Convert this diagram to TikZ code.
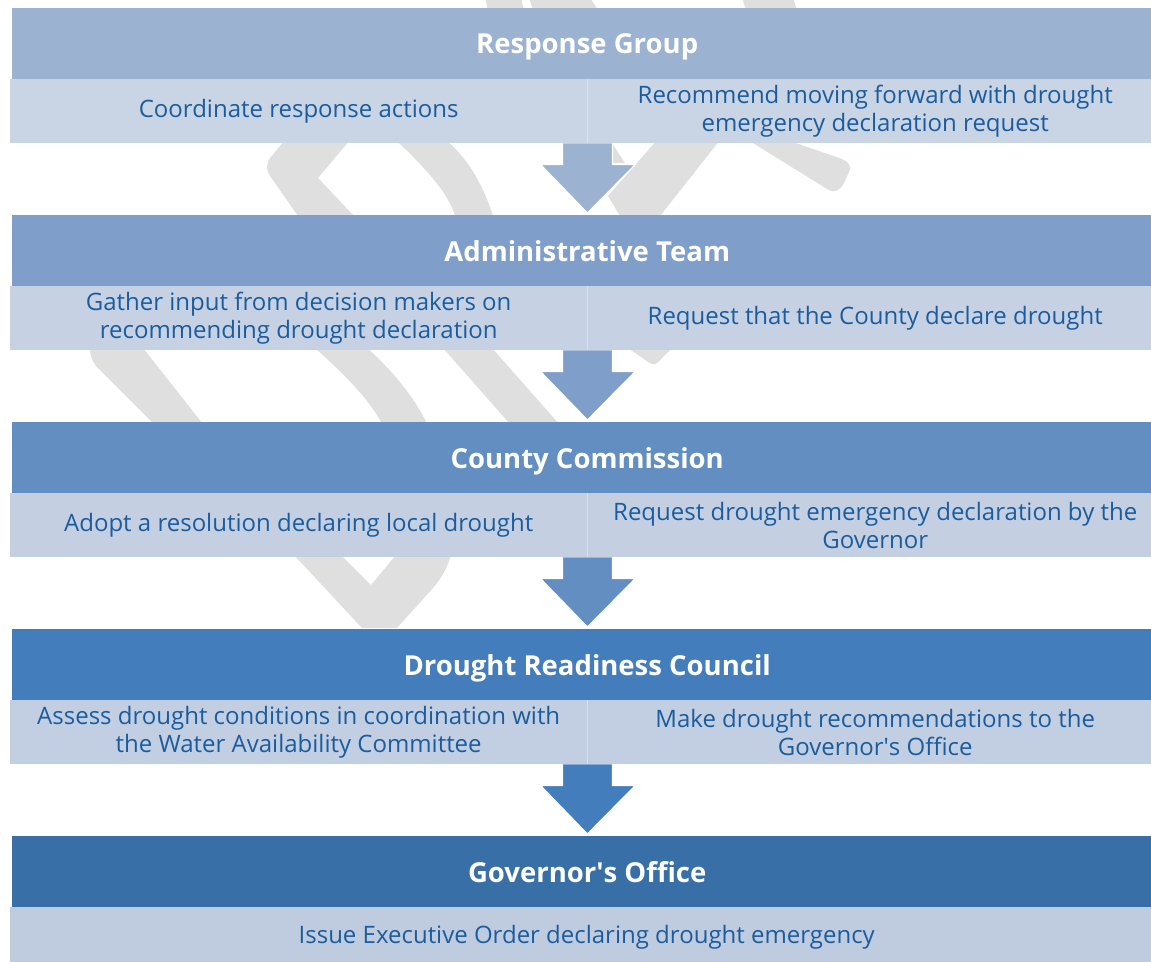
\documentclass[tikz,border=0pt]{standalone}
\usepackage{fontspec}
\setmainfont{Open Sans}
\usepackage{xcolor}
\usepackage{tikz}
\usetikzlibrary{positioning,calc}

\definecolor{headA}{HTML}{9CB2D1}
\definecolor{headB}{HTML}{7F9EC9}
\definecolor{headC}{HTML}{628EC1}
\definecolor{headD}{HTML}{437DBB}
\definecolor{headE}{HTML}{376FA6}
\definecolor{subA}{HTML}{C9D4E4}
\definecolor{subB}{HTML}{C6D2E3}
\definecolor{subC}{HTML}{C4D0E2}
\definecolor{subD}{HTML}{C2CFE2}
\definecolor{subE}{HTML}{BFCCDF}
\definecolor{txtblue}{HTML}{1B5C9E}
\definecolor{wmgray}{HTML}{DFDFDF}

\tikzset{
    head/.style={fill=#1, text=white, font=\fontsize{27.5}{30}\selectfont\bfseries, text depth=0pt,
        minimum width=1150pt, minimum height=71pt, inner sep=0pt, anchor=north west},
    cell/.style={fill=#1, text=txtblue, font=\fontsize{24}{28}\selectfont, align=center,
        minimum height=64pt, inner sep=0pt, anchor=north west},
    flow/.style={fill=#1, draw=white, line width=1.2pt, line join=miter},
    divider/.style={draw=white, opacity=0.35, line width=1pt},
    wmark/.style={fill=wmgray}
}

\begin{document}
\begin{tikzpicture}[x=1pt,y=-1pt]
    \useasboundingbox (0,0) rectangle (1151,961);

    % Watermark pieces showing between the boxes
    \fill[wmark] (485,-2) -- (488,10) -- (524,10) -- (521,-2) -- cycle;
    \fill[wmark] (529,-2) -- (533,10) -- (598,10) -- (590,-2) -- cycle;
    \fill[wmark] (742,-2) -- (746,10) -- (797,10) -- (793,-2) -- cycle;

    \fill[wmark] (285,140) -- (270,158) .. controls (266,164) and (266,170) .. (270,176)
        -- (298,216) -- (354,216) -- (318,178) -- (350,140) -- cycle;
    \fill[wmark] (396,140) .. controls (425,168) and (448,192) .. (455,216)
        -- (493,216) .. controls (485,190) and (470,160) .. (446,140) -- cycle;
    \fill[wmark] (612,143) -- (612,163) -- (625,163) -- cycle;
    \fill[wmark] (608,196) -- (620,216) -- (660,216) -- (720,140) -- (657,140) -- cycle;
    \fill[wmark] (748,140) -- (827,189) .. controls (835,194) and (840,190) .. (844,183)
        -- (849,172) .. controls (852,165) and (848,162) .. (842,159) -- (787,140) -- cycle;

    \fill[wmark] (90,348) .. controls (90,356) and (92,360) .. (96,366) -- (154,424)
        -- (203,424) -- (143,348) -- cycle;
    \fill[wmark] (315,348) .. controls (345,375) and (370,400) .. (382,424)
        -- (427,424) .. controls (415,398) and (392,370) .. (367,348) -- cycle;
    \fill[wmark] (443,348) -- (510,424) -- (559,424) -- (492,348) -- cycle;
    \fill[wmark] (628,348) -- (648,362) .. controls (653,366) and (657,364) .. (660,360) -- (672,348) -- cycle;

    \fill[wmark] (294,555) -- (362,628) -- (397,628) -- (433,588)
        .. controls (442,578) and (448,566) .. (451,555) -- (396,555) -- (371,585) -- (341,555) -- cycle;

    % Response Group
    \node[head=headA] (rg) at (12,8) {Response Group};
    \node[cell=subA, minimum width=577pt] (rgL) at (10,79) {Coordinate response actions};
    \node[cell=subA, minimum width=576pt] (rgR) at (587,79) {Recommend moving forward with drought\\emergency declaration request};

    % Administrative Team
    \node[head=headB] (at) at (12,215) {Administrative Team};
    \node[cell=subB, minimum width=577pt] (atL) at (10,286) {Gather input from decision makers on\\recommending drought declaration};
    \node[cell=subB, minimum width=576pt] (atR) at (587,286) {Request that the County declare drought};

    % County Commission
    \node[head=headC] (cc) at (12,422) {County Commission};
    \node[cell=subC, minimum width=577pt] (ccL) at (10,493) {Adopt a resolution declaring local drought};
    \node[cell=subC, minimum width=576pt] (ccR) at (587,493) {Request drought emergency declaration by the\\Governor};

    % Drought Readiness Council
    \node[head=headD] (drc) at (12,629) {Drought Readiness Council};
    \node[cell=subD, minimum width=577pt] (drcL) at (10,700) {Assess drought conditions in coordination with\\the Water Availability Committee};
    \node[cell=subD, minimum width=576pt] (drcR) at (587,700) {Make drought recommendations to the\\Governor\textquotesingle s Office};

    % Governor's Office
    \node[head=headE] (go) at (12,836) {Governor\textquotesingle s Office};
    \node[cell=subE, minimum width=1153pt, minimum height=60pt] (goL) at (10,907) {Issue Executive Order declaring drought emergency};

    % cell dividers
    \draw[divider] (rgL.north east) -- (rgL.south east);
    \draw[divider] (atL.north east) -- (atL.south east);
    \draw[divider] (ccL.north east) -- (ccL.south east);
    \draw[divider] (drcL.north east) -- (drcL.south east);

    % Block arrows
    \filldraw[flow=headA] ($(rgL.south east)+(25,0)$) -- ($(rgL.south east)+(25,21)$) -- ($(rgL.south east)+(48,21)$)
        -- ($(rgL.south east |- at.north)+(0,-2)$) -- ($(rgL.south east)+(-47,21)$) -- ($(rgL.south east)+(-25,21)$) -- ($(rgL.south east)+(-25,0)$);
    \filldraw[flow=headB] ($(atL.south east)+(25,0)$) -- ($(atL.south east)+(25,21)$) -- ($(atL.south east)+(48,21)$)
        -- ($(atL.south east |- cc.north)+(0,-2)$) -- ($(atL.south east)+(-47,21)$) -- ($(atL.south east)+(-25,21)$) -- ($(atL.south east)+(-25,0)$);
    \filldraw[flow=headC] ($(ccL.south east)+(25,0)$) -- ($(ccL.south east)+(25,21)$) -- ($(ccL.south east)+(48,21)$)
        -- ($(ccL.south east |- drc.north)+(0,-2)$) -- ($(ccL.south east)+(-47,21)$) -- ($(ccL.south east)+(-25,21)$) -- ($(ccL.south east)+(-25,0)$);
    \filldraw[flow=headD] ($(drcL.south east)+(25,0)$) -- ($(drcL.south east)+(25,21)$) -- ($(drcL.south east)+(48,21)$)
        -- ($(drcL.south east |- go.north)+(0,-2)$) -- ($(drcL.south east)+(-47,21)$) -- ($(drcL.south east)+(-25,21)$) -- ($(drcL.south east)+(-25,0)$);
\end{tikzpicture}
\end{document}
